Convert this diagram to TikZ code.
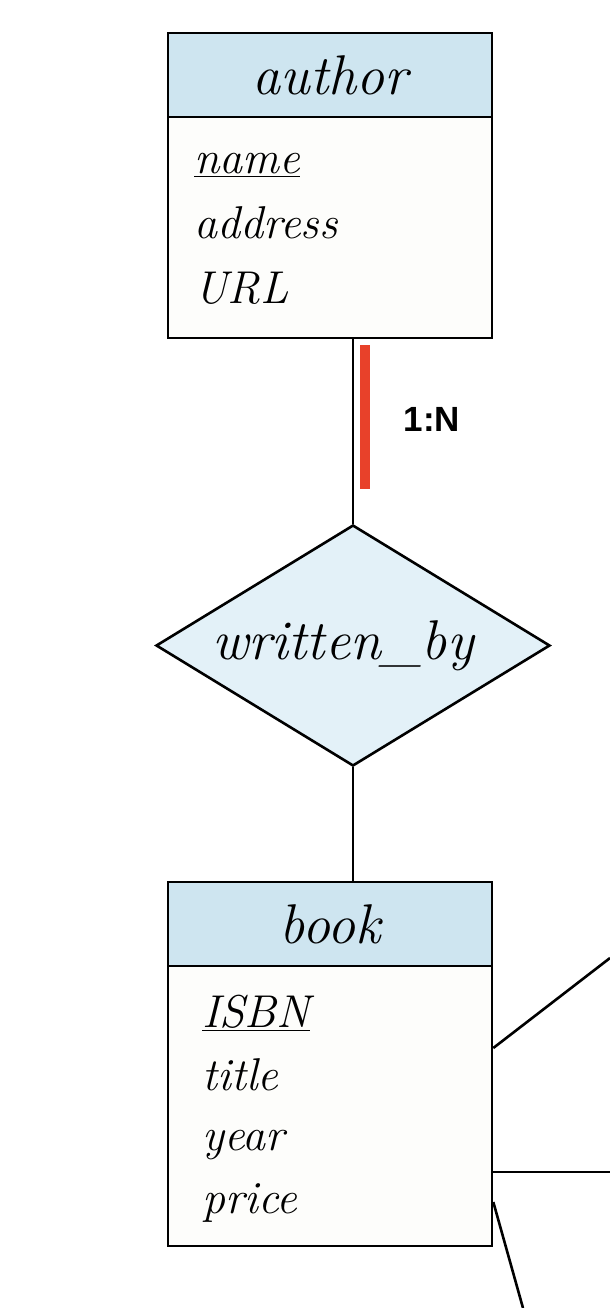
\documentclass[tikz,border=0pt]{standalone}
\usepackage{fontspec}
\newfontfamily\cardfont{Liberation Sans}
\usepackage{tikz}
\usetikzlibrary{shapes.geometric,calc}
\definecolor{headblue}{RGB}{206,229,240}
\definecolor{relblue}{RGB}{227,241,248}
\definecolor{bodywhite}{RGB}{253,253,251}
\definecolor{cardred}{RGB}{232,65,42}

\begin{document}
\begin{tikzpicture}[x=0.5pt,y=-0.5pt,line width=1.3pt,
  entityhead/.style={draw,fill=headblue,minimum width=162pt,minimum height=42pt,inner sep=0pt,
    font=\fontsize{28}{32}\selectfont\itshape},
  entitybody/.style={draw,fill=bodywhite,minimum width=162pt,inner sep=0pt},
  attr/.style={anchor=base west,inner sep=0pt,font=\fontsize{23}{26}\selectfont\itshape},
  relation/.style={draw,diamond,fill=relblue,aspect=1.635,minimum width=197pt,minimum height=120.5pt,
    inner sep=0pt,font=\fontsize{28}{32}\selectfont\itshape}]
\useasboundingbox (0,0) rectangle (610,1308);

% author entity
\node[entitybody,minimum height=110.5pt] (authorbody) at (330,227.5) {};
\node[entityhead] (authorhead) at (330,75) {author};
\node[attr] (aname) at (193,173) {\underline{name}};
\node[attr] (aaddress) at (193,238) {address};
\node[attr] (aurl) at (193,303) {URL};

% relationship
\node[relation] (writtenby) at (353,645.5) {\hspace*{-10pt}written\_by};

% book entity
\node[entitybody,minimum height=140pt] (bookbody) at (330,1106) {};
\node[entityhead] (bookhead) at (330,924) {book};
\node[attr] (bisbn) at (201,1027) {\underline{ISBN}};
\node[attr] (btitle) at (201,1090) {title};
\node[attr] (byear) at (201,1150) {year};
\node[attr] (bprice) at (201,1213) {price};

\draw (writtenby.north) -- (writtenby.north |- authorbody.south);
\draw (writtenby.south) -- (writtenby.south |- bookhead.north);

% cardinality mark
\draw[cardred,line width=5pt] (365,345) -- (365,489);
\node[font=\cardfont\fontsize{17.5}{20}\selectfont\bfseries] (card) at (432,419.5) {1:N};

% links leaving the picture
\coordinate (outa) at (610,958);
\coordinate (outb) at (610,1172);
\coordinate (outc) at (523,1308);
\draw (bookbody.east |- 0,1048) -- (outa);
\draw (bookbody.east |- 0,1172) -- (outb);
\draw (bookbody.east |- 0,1202) -- (outc);
\end{tikzpicture}
\end{document}
